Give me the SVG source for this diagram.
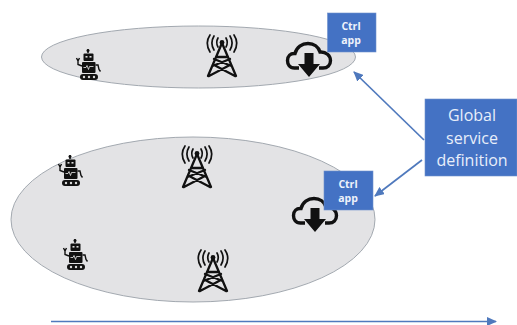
<svg xmlns="http://www.w3.org/2000/svg" width="517" height="325" viewBox="0 0 517 325">
<style>
.zone{fill:#e3e3e5;stroke:#9aa0a8;stroke-width:.9}
.box{fill:#4472c4;stroke:#6f8fcb;stroke-width:.6}
.t{font-family:"Open Sans","Noto Sans",sans-serif;fill:#fff;text-anchor:middle}
.s{font-size:10.500px;font-weight:700;fill:#eef3fb}
.g{font-size:16px;fill:#e8eefa}
.c{fill:none;stroke:#4f79bd;stroke-width:1.700}
.ln{fill:none;stroke:#111;stroke-linecap:round;stroke-linejoin:round}
</style>
<defs>
<marker id="a" markerWidth="10" markerHeight="9" refX="9" refY="4.500" orient="auto" markerUnits="userSpaceOnUse"><path d="M0 0L10 4.500L0 9Z" fill="#4f79bd"/></marker>
<symbol id="tower" viewBox="0 0 32 42" overflow="visible">
<g class="ln">
<path d="M16 8L2 41M16 8L30 41M10 22H22M6.500 31L24 24M25.500 31L8 24M3 41L22 31M29 41L10 31" style="stroke-width:2.300"/>
<path d="M12 3Q9.500 7.500 12 12M20 3Q22.500 7.500 20 12M8 1Q3.800 8 8 15M24 1Q28.200 8 24 15M4 0Q-1.500 8 4 17M28 0Q33.500 8 28 17" style="stroke-width:1.700"/>
</g>
<circle cx="16" cy="7.500" r="2.400" fill="#111"/>
</symbol>
<symbol id="robot" viewBox="0 0 25 31" overflow="visible">
<path d="M12 0v4" stroke="#111" stroke-width="1.500"/><circle cx="12" cy="1.500" r="1.500" fill="#111"/>
<rect x="7.500" y="4.500" width="10" height="7.500" rx="1" fill="#111"/>
<rect x="9.500" y="7" width="2" height="1.600" fill="#ddd"/><rect x="13.500" y="7" width="2" height="1.600" fill="#ddd"/>
<rect x="6" y="13" width="13.500" height="11" rx="1" fill="#111"/>
<path d="M7.500 18.500h2.500l1-2 1.500 4 1-3h4" fill="none" stroke="#eee" stroke-width=".8"/>
<path d="M0.500 9l1.500 3 1.500-3M2 12v3.500l4 1.500M19.500 16h2.500l1 4.500 1.500 2" fill="none" stroke="#111" stroke-width="1.400"/>
<rect x="4" y="25" width="18" height="6" rx="3" fill="#111"/>
<circle cx="8" cy="28" r="1.200" fill="#ddd"/><circle cx="13" cy="28" r="1.200" fill="#ddd"/><circle cx="18" cy="28" r="1.200" fill="#ddd"/>
</symbol>
<symbol id="cloud" viewBox="0 0 46 35" overflow="visible">
<path d="M13 26H8.500C3.500 26 1.500 22.500 1.500 18.500C1.500 14 4.500 11 9 11.500C10.500 5 16 1.500 22 1.500C28 1.500 32.500 5 34 10C40 9.500 44.500 13.500 44.500 18.500C44.500 23 41.500 26 37 26H33" fill="none" stroke="#111" stroke-width="3.400"/>
<path d="M18.500 11H27.500V22H34L23 35L12 22H18.500Z" fill="#111"/>
</symbol>
</defs>
<rect width="517" height="325" fill="#fff"/>
<g id="zone-top"><ellipse class="zone" cx="198.500" cy="57" rx="157" ry="31"/></g>
<g id="zone-bottom"><ellipse class="zone" cx="193" cy="219.500" rx="182" ry="82.500"/></g>
<g id="robot-1"><use href="#robot" x="76" y="49" width="25" height="31"/></g>
<g id="robot-2"><use href="#robot" x="58" y="155" width="25" height="31"/></g>
<g id="robot-3"><use href="#robot" x="63" y="239" width="25" height="31"/></g>
<g id="tower-1"><use href="#tower" x="206" y="35" width="32" height="42"/></g>
<g id="tower-2"><use href="#tower" x="181" y="146" width="32" height="42"/></g>
<g id="tower-3"><use href="#tower" x="197" y="250" width="32" height="42"/></g>
<g id="cloud-1"><use href="#cloud" x="286" y="42" width="46" height="35"/></g>
<g id="cloud-2"><use href="#cloud" x="292" y="197" width="46" height="35"/></g>
<g id="ctrl-1"><rect class="box" x="327.500" y="13" width="48.500" height="39"/><text class="t s" x="351" y="30">Ctrl</text><text class="t s" x="351" y="44">app</text></g>
<g id="ctrl-2"><rect class="box" x="324" y="171" width="49" height="39"/><text class="t s" x="348" y="188">Ctrl</text><text class="t s" x="348" y="202">app</text></g>
<g id="global"><rect class="box" x="425" y="99" width="92" height="77"/><text class="t g" x="472" y="121">Global</text><text class="t g" x="472" y="144">service</text><text class="t g" x="472" y="166">definition</text></g>
<g id="connectors">
<path class="c" d="M424 140L354 72" marker-end="url(#a)"/>
<path class="c" d="M422 160L375 196" marker-end="url(#a)"/>
<path class="c" d="M51 321.500H496" marker-end="url(#a)"/>
</g>
</svg>
